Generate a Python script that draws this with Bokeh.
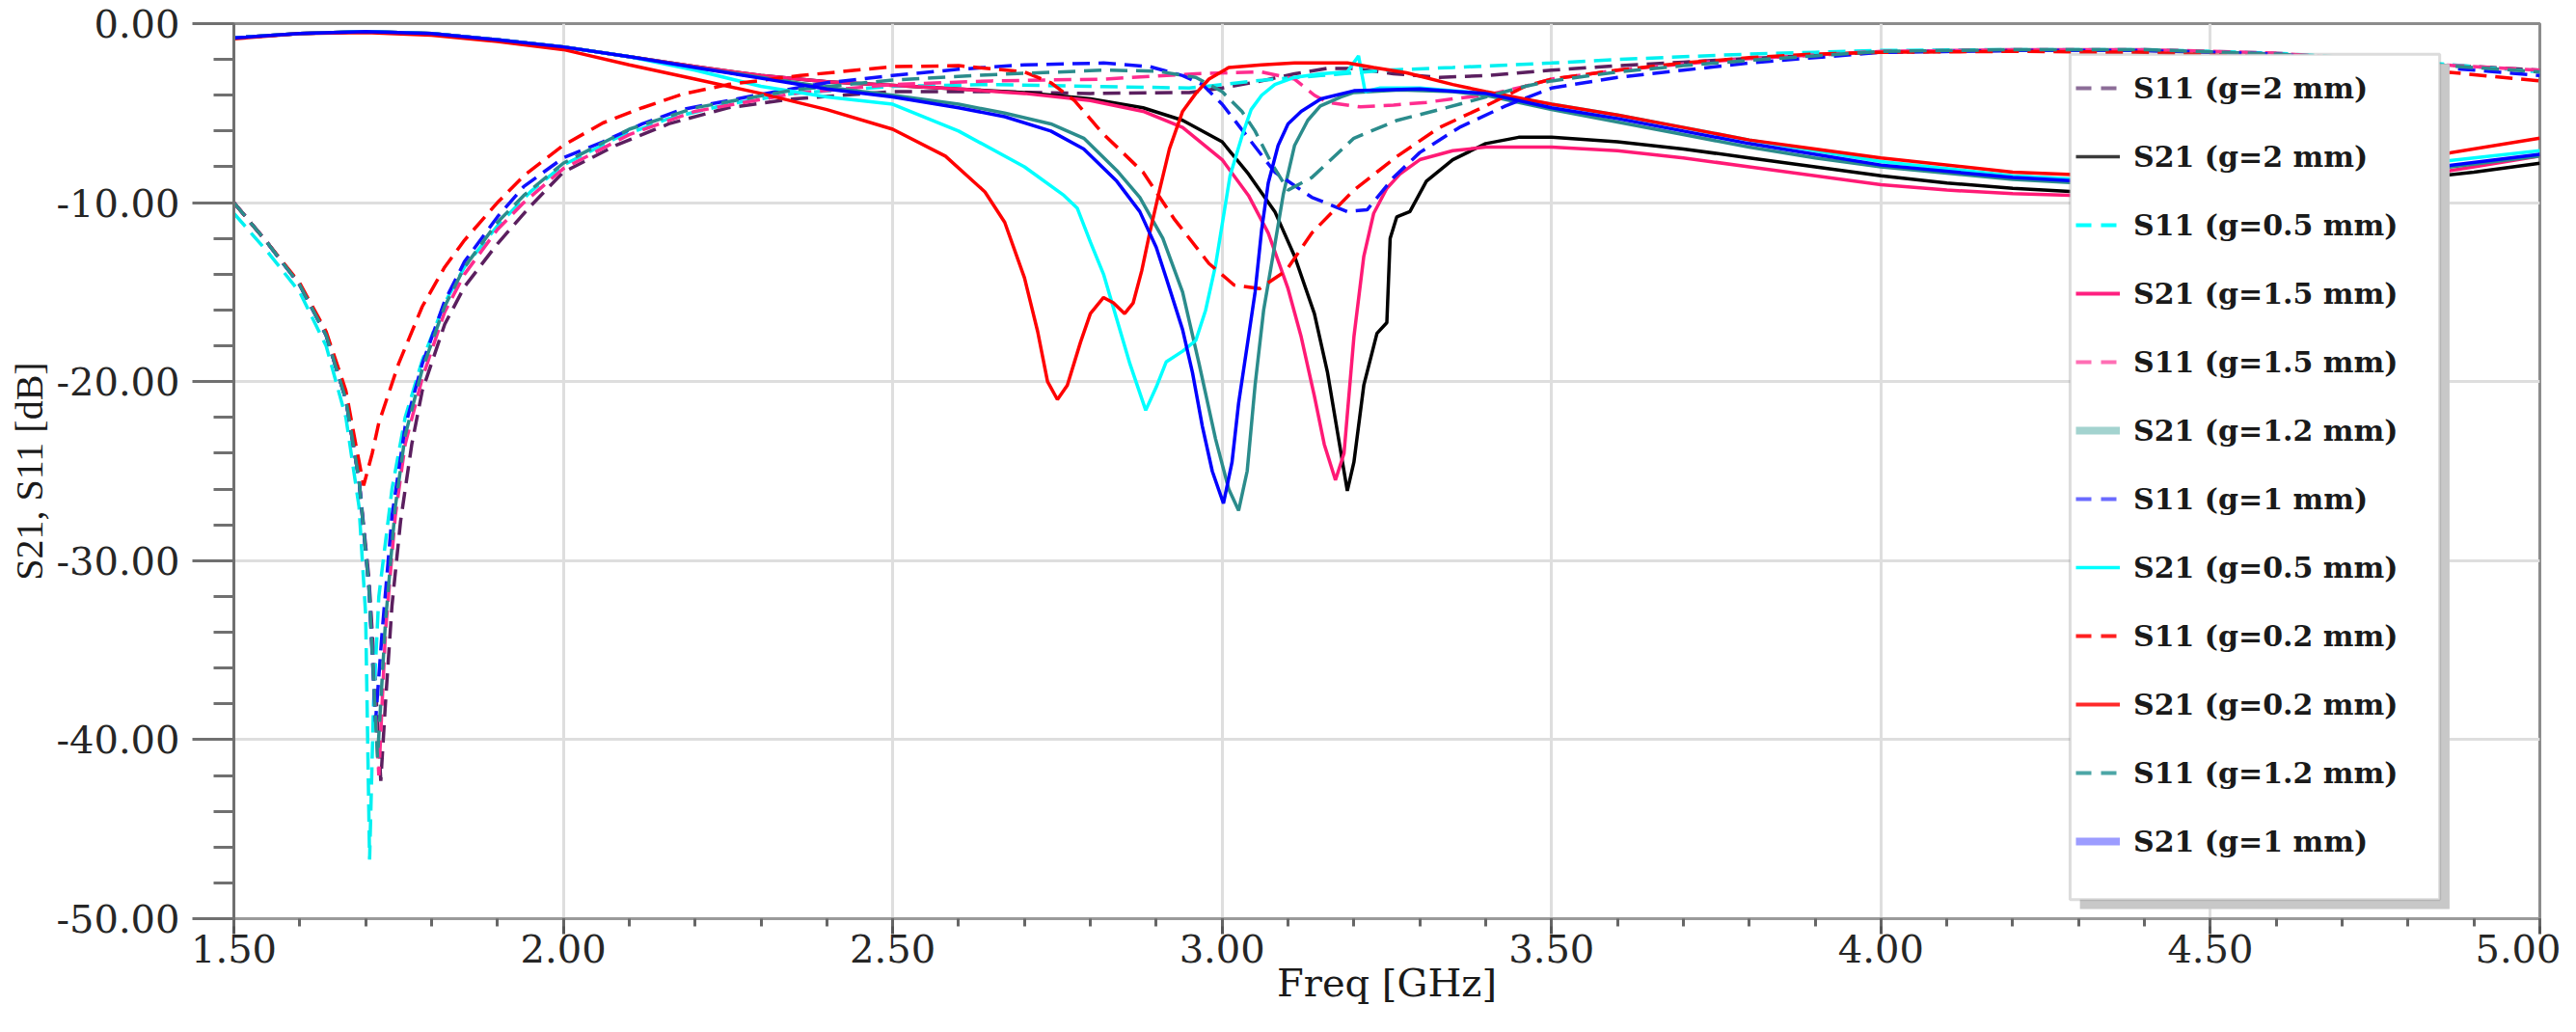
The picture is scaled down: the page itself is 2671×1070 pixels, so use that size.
from bokeh.plotting import figure
from bokeh.models import Range1d, FixedTicker, PrintfTickFormatter, Legend, LegendItem, BoxAnnotation
from bokeh.embed import file_html
from bokeh.resources import INLINE

# ---------------- data (GHz, dB) ----------------
x_major = [1.5, 2.0, 2.5, 3.0, 3.5, 4.0, 4.5, 5.0]
x_minor = [round(1.5 + 0.1 * i, 2) for i in range(36)]
y_major = [-50, -40, -30, -20, -10, 0]
y_minor = list(range(-50, 1, 2))

f_s21_g2 = [1.50, 1.60, 1.70, 1.80, 1.90, 2.00, 2.10, 2.20, 2.30, 2.40, 2.50, 2.60, 2.70, 2.80, 2.88, 2.94,
            3.00, 3.04, 3.08, 3.11, 3.14, 3.16, 3.175, 3.19, 3.20, 3.215, 3.235, 3.25, 3.255, 3.265, 3.285,
            3.31, 3.35, 3.40, 3.45, 3.50, 3.60, 3.70, 3.80, 3.90, 4.00, 4.10, 4.20, 4.30, 4.40, 4.50, 4.60,
            4.70, 4.80, 4.90, 5.00]
s21_g2 = [-0.80, -0.55, -0.45, -0.55, -0.90, -1.30, -1.85, -2.40, -2.90, -3.25, -3.45, -3.65, -3.85, -4.20,
          -4.70, -5.40, -6.60, -8.40, -10.5, -13.0, -16.2, -19.5, -22.8, -26.1, -24.5, -20.2, -17.3, -16.7,
          -12.0, -10.8, -10.5, -8.8, -7.6, -6.7, -6.35, -6.35, -6.6, -7.0, -7.5, -8.0, -8.5, -8.9, -9.2,
          -9.4, -9.5, -9.5, -9.3, -9.0, -8.7, -8.3, -7.8]

f_s21_g15 = [1.50, 1.60, 1.70, 1.80, 1.90, 2.00, 2.10, 2.20, 2.30, 2.40, 2.50, 2.60, 2.70, 2.80, 2.88, 2.94,
             3.00, 3.04, 3.07, 3.10, 3.12, 3.14, 3.155, 3.172, 3.185, 3.20, 3.215, 3.23, 3.25, 3.27, 3.30,
             3.35, 3.40, 3.50, 3.60, 3.70, 3.80, 3.90, 4.00, 4.10, 4.20, 4.30, 4.40, 4.50, 4.60, 4.70, 4.80,
             4.90, 5.00]
s21_g15 = [-0.80, -0.55, -0.45, -0.55, -0.90, -1.30, -1.85, -2.40, -2.90, -3.25, -3.45, -3.65, -3.90, -4.30,
           -4.90, -5.80, -7.60, -9.60, -11.7, -14.8, -17.5, -20.8, -23.5, -25.5, -24.0, -17.5, -13.0, -10.6,
           -9.2, -8.4, -7.6, -7.1, -6.9, -6.9, -7.1, -7.5, -8.0, -8.5, -9.0, -9.3, -9.5, -9.6, -9.7, -9.6,
           -9.4, -9.1, -8.6, -8.0, -7.4]

f_s21_g02 = [1.50, 1.60, 1.70, 1.80, 1.90, 2.00, 2.10, 2.20, 2.30, 2.40, 2.50, 2.58, 2.64, 2.67, 2.70, 2.72,
             2.735, 2.75, 2.765, 2.785, 2.80, 2.82, 2.835, 2.852, 2.865, 2.878, 2.89, 2.905, 2.92, 2.94, 2.96,
             2.98, 3.01, 3.06, 3.11, 3.19, 3.23, 3.28, 3.35, 3.40, 3.50, 3.60, 3.70, 3.80, 3.90, 4.00, 4.20,
             4.40, 4.60, 4.80, 5.00]
s21_g02 = [-0.85, -0.55, -0.50, -0.65, -1.00, -1.45, -2.30, -3.10, -3.90, -4.80, -5.90, -7.4, -9.4, -11.1,
           -14.2, -17.2, -20.0, -21.0, -20.2, -17.8, -16.2, -15.3, -15.6, -16.2, -15.6, -13.8, -11.7, -9.3,
           -7.0, -4.9, -3.9, -3.1, -2.45, -2.3, -2.2, -2.2, -2.45, -2.75, -3.4, -3.8, -4.5, -5.1, -5.8, -6.5,
           -7.0, -7.5, -8.3, -8.6, -8.4, -7.6, -6.4]

f_s21_g05 = [1.50, 1.60, 1.70, 1.80, 1.90, 2.00, 2.10, 2.20, 2.30, 2.40, 2.50, 2.60, 2.70, 2.76, 2.78, 2.80,
             2.82, 2.84, 2.86, 2.884, 2.90, 2.915, 2.94, 2.96, 2.975, 2.99, 3.012, 3.03, 3.044, 3.06, 3.08,
             3.11, 3.15, 3.19, 3.207, 3.217, 3.24, 3.30, 3.40, 3.50, 3.60, 3.70, 3.80, 3.90, 4.00, 4.20, 4.40,
             4.60, 4.80, 5.00]
s21_g05 = [-0.80, -0.55, -0.45, -0.55, -0.90, -1.30, -1.85, -2.60, -3.50, -4.10, -4.50, -6.00, -8.00, -9.6,
           -10.3, -12.2, -14.0, -16.5, -19.0, -21.6, -20.3, -18.9, -18.3, -17.7, -16.0, -13.5, -8.5, -6.3,
           -4.8, -4.0, -3.4, -3.0, -2.8, -2.7, -1.8, -3.8, -3.6, -3.6, -3.9, -4.5, -5.1, -5.8, -6.5, -7.1,
           -7.7, -8.5, -8.9, -8.8, -7.9, -7.1]

f_s21_g1 = [1.50, 1.60, 1.70, 1.80, 1.90, 2.00, 2.10, 2.20, 2.30, 2.40, 2.50, 2.60, 2.67, 2.74, 2.79, 2.84,
            2.875, 2.90, 2.915, 2.94, 2.955, 2.97, 2.985, 3.002, 3.015, 3.025, 3.04, 3.05, 3.06, 3.07, 3.085,
            3.10, 3.12, 3.15, 3.20, 3.30, 3.40, 3.50, 3.60, 3.70, 3.80, 3.90, 4.00, 4.20, 4.40, 4.60, 4.80,
            5.00]
s21_g1 = [-0.80, -0.55, -0.45, -0.55, -0.90, -1.30, -1.85, -2.45, -3.05, -3.65, -4.10, -4.70, -5.2, -6.0,
          -7.0, -8.8, -10.5, -12.5, -14.2, -17.1, -19.5, -22.5, -25.0, -26.8, -24.5, -21.2, -17.5, -15.0,
          -11.5, -8.9, -6.8, -5.6, -4.9, -4.2, -3.75, -3.65, -3.9, -4.7, -5.3, -6.0, -6.7, -7.3, -7.9, -8.6,
          -9.0, -9.0, -8.2, -7.3]

f_s21_g12 = [1.50, 1.60, 1.70, 1.80, 1.90, 2.00, 2.10, 2.20, 2.30, 2.40, 2.50, 2.60, 2.67, 2.74, 2.79, 2.84,
             2.875, 2.91, 2.94, 2.965, 2.99, 3.01, 3.025, 3.038, 3.05, 3.063, 3.077, 3.093, 3.11, 3.13, 3.149,
             3.18, 3.20, 3.27, 3.35, 3.40, 3.50, 3.60, 3.70, 3.80, 3.90, 4.00, 4.20, 4.40, 4.60, 4.80, 5.00]
s21_g12 = [-0.80, -0.55, -0.45, -0.55, -0.90, -1.30, -1.85, -2.45, -3.00, -3.55, -4.00, -4.50, -5.0, -5.6,
           -6.4, -8.2, -9.7, -12.0, -15.0, -19.0, -23.2, -26.0, -27.2, -25.0, -20.2, -16.0, -13.0, -9.5,
           -6.8, -5.4, -4.6, -4.1, -3.85, -3.7, -3.8, -4.0, -4.8, -5.5, -6.2, -6.9, -7.5, -8.0, -8.7, -9.1,
           -9.0, -8.3, -7.4]

f_s11_g2 = [1.50, 1.55, 1.60, 1.64, 1.67, 1.69, 1.705, 1.715, 1.723, 1.73, 1.74, 1.753, 1.77, 1.786, 1.82,
            1.85, 1.90, 1.95, 2.00, 2.08, 2.16, 2.25, 2.35, 2.50, 2.65, 2.80, 2.95, 3.00, 3.06, 3.11, 3.16,
            3.20, 3.26, 3.33, 3.40, 3.50, 3.60, 3.70, 3.80, 3.90, 4.00, 4.20, 4.40, 4.60, 4.80, 5.00]
s11_g2 = [-10.0, -12.2, -14.6, -17.4, -21.0, -25.5, -31.0, -37.0, -42.3, -38.0, -32.5, -27.8, -23.5, -20.5,
          -16.8, -14.7, -12.3, -10.2, -8.3, -6.8, -5.6, -4.7, -4.2, -3.8, -3.8, -3.9, -3.85, -3.6, -3.2,
          -2.8, -2.5, -2.5, -2.8, -3.0, -2.9, -2.6, -2.35, -2.15, -1.95, -1.75, -1.6, -1.5, -1.5, -1.7,
          -2.2, -2.6]

f_s11_g05 = [1.50, 1.55, 1.60, 1.64, 1.67, 1.69, 1.70, 1.706, 1.712, 1.72, 1.74, 1.76, 1.786, 1.82, 1.85,
             1.90, 1.95, 2.00, 2.08, 2.16, 2.25, 2.35, 2.50, 2.65, 2.80, 2.95, 3.05, 3.15, 3.25, 3.35, 3.50,
             3.60, 3.70, 3.80, 3.90, 4.00, 4.20, 4.40, 4.60, 4.80, 5.00]
s11_g05 = [-10.6, -12.7, -15.0, -18.0, -22.0, -27.0, -33.0, -46.7, -38.0, -32.0, -26.0, -22.0, -18.8, -15.6,
           -13.6, -11.3, -9.4, -7.9, -6.4, -5.3, -4.5, -3.9, -3.5, -3.4, -3.5, -3.6, -3.2, -2.9, -2.6,
           -2.45, -2.2, -2.0, -1.85, -1.7, -1.6, -1.5, -1.45, -1.45, -1.65, -2.1, -2.7]

f_s11_g15 = [1.50, 1.55, 1.60, 1.64, 1.67, 1.69, 1.705, 1.72, 1.73, 1.745, 1.76, 1.786, 1.82, 1.85, 1.90,
             1.94, 2.00, 2.10, 2.20, 2.35, 2.50, 2.65, 2.82, 2.96, 3.06, 3.11, 3.14, 3.16, 3.21, 3.26, 3.31,
             3.35, 3.40, 3.46, 3.50, 3.60, 3.70, 3.80, 3.90, 4.00, 4.20, 4.40, 4.60, 4.80, 5.00]
s11_g15 = [-10.0, -12.2, -14.6, -17.4, -21.0, -25.5, -31.5, -42.0, -34.0, -27.5, -23.5, -19.8, -16.1, -14.0,
           -11.5, -10.0, -8.1, -6.2, -4.9, -3.9, -3.4, -3.2, -3.1, -2.8, -2.7, -3.1, -4.0, -4.4, -4.65,
           -4.55, -4.4, -4.2, -4.0, -3.5, -3.1, -2.6, -2.25, -1.95, -1.75, -1.55, -1.45, -1.45, -1.65, -2.2,
           -2.6]

f_s11_g1 = [1.50, 1.55, 1.60, 1.64, 1.67, 1.69, 1.705, 1.715, 1.725, 1.74, 1.76, 1.786, 1.82, 1.85, 1.90,
            1.94, 2.00, 2.06, 2.12, 2.18, 2.30, 2.40, 2.50, 2.60, 2.70, 2.82, 2.89, 2.94, 2.97, 3.00, 3.04,
            3.08, 3.136, 3.19, 3.22, 3.26, 3.30, 3.36, 3.43, 3.50, 3.60, 3.70, 3.80, 3.90, 4.00, 4.20, 4.40,
            4.60, 4.80, 5.00]
s11_g1 = [-10.0, -12.2, -14.6, -17.4, -21.0, -25.5, -31.5, -39.0, -34.0, -27.5, -22.5, -19.0, -15.5, -13.3,
          -10.8, -9.1, -7.5, -6.6, -5.6, -4.8, -3.95, -3.3, -2.9, -2.55, -2.3, -2.2, -2.4, -2.9, -3.4, -4.5,
          -6.4, -8.3, -9.7, -10.5, -10.4, -8.6, -7.2, -5.8, -4.6, -3.6, -3.0, -2.6, -2.2, -1.9, -1.6, -1.5,
          -1.5, -1.7, -2.3, -2.9]

f_s11_g02 = [1.50, 1.55, 1.60, 1.64, 1.67, 1.685, 1.697, 1.71, 1.72, 1.75, 1.786, 1.82, 1.85, 1.90, 1.94,
             2.00, 2.06, 2.12, 2.18, 2.25, 2.36, 2.50, 2.60, 2.70, 2.74, 2.776, 2.818, 2.88, 2.927, 2.98,
             3.018, 3.057, 3.097, 3.136, 3.20, 3.266, 3.33, 3.40, 3.46, 3.50, 3.60, 3.70, 3.80, 3.90, 4.00,
             4.20, 4.40, 4.60, 4.80, 5.00]
s11_g02 = [-10.0, -12.2, -14.5, -17.2, -20.5, -23.5, -25.8, -24.0, -22.3, -19.0, -15.8, -13.6, -12.1, -10.0,
           -8.5, -6.8, -5.55, -4.7, -3.95, -3.4, -2.9, -2.4, -2.35, -2.7, -3.3, -4.3, -6.1, -8.3, -10.9,
           -13.4, -14.6, -14.8, -13.8, -11.7, -9.3, -7.4, -5.8, -4.6, -3.5, -3.1, -2.6, -2.2, -1.9, -1.7,
           -1.6, -1.55, -1.6, -1.9, -2.5, -3.2]

f_s11_g12 = [1.50, 1.55, 1.60, 1.64, 1.67, 1.69, 1.705, 1.718, 1.73, 1.745, 1.76, 1.786, 1.82, 1.85, 1.90,
             1.94, 2.00, 2.10, 2.20, 2.35, 2.50, 2.65, 2.82, 2.90, 2.96, 3.00, 3.03, 3.05, 3.075, 3.10,
             3.136, 3.20, 3.266, 3.33, 3.40, 3.46, 3.50, 3.60, 3.70, 3.80, 3.90, 4.00, 4.20, 4.40, 4.60,
             4.80, 5.00]
s11_g12 = [-10.0, -12.2, -14.6, -17.4, -21.0, -25.5, -31.5, -41.0, -33.5, -27.0, -23.0, -19.3, -15.8, -13.6,
           -11.1, -9.6, -7.8, -5.9, -4.7, -3.7, -3.15, -2.85, -2.6, -2.65, -3.0, -3.8, -4.9, -6.0, -7.8,
           -9.3, -8.6, -6.4, -5.4, -4.8, -4.1, -3.5, -3.2, -2.7, -2.35, -2.05, -1.8, -1.55, -1.45, -1.45,
           -1.7, -2.2, -2.7]

labels = ["S11 (g=2 mm)", "S21 (g=2 mm)", "S11 (g=0.5 mm)", "S21 (g=1.5 mm)", "S11 (g=1.5 mm)",
          "S21 (g=1.2 mm)", "S11 (g=1 mm)", "S21 (g=0.5 mm)", "S11 (g=0.2 mm)", "S21 (g=0.2 mm)",
          "S11 (g=1.2 mm)", "S21 (g=1 mm)"]

# ---------------- styles ----------------
DASH = "18 9"
series = [
    (f_s11_g2, s11_g2, "#5b1f5f", DASH, "#8c6d98", 4),
    (f_s21_g2, s21_g2, "#000000", "solid", "#3a3a3a", 3.5),
    (f_s11_g05, s11_g05, "#00f0f0", DASH, "#00ffff", 4),
    (f_s21_g15, s21_g15, "#ff1a75", "solid", "#ff2080", 4),
    (f_s11_g15, s11_g15, "#ff2d8f", DASH, "#ff6eb4", 4),
    (f_s21_g12, s21_g12, "#2b8c8c", "solid", "#a3d3cf", 8),
    (f_s11_g1, s11_g1, "#1010ff", DASH, "#6a6aff", 4),
    (f_s21_g05, s21_g05, "#00ffff", "solid", "#00ffff", 3.5),
    (f_s11_g02, s11_g02, "#ff0000", DASH, "#ff2020", 4),
    (f_s21_g02, s21_g02, "#ff0000", "solid", "#ff2a2a", 4),
    (f_s11_g12, s11_g12, "#2b8c8c", DASH, "#4ca6a6", 4),
    (f_s21_g1, s21_g1, "#0000ff", "solid", "#9c9cff", 8),
]

TICK_FONT = "DejaVu Serif"

p = figure(width=2655, height=1054, output_backend="svg", toolbar_location=None,
           x_range=Range1d(1.5, 5.0), y_range=Range1d(-50, 0),
           min_border_left=242, min_border_right=22, min_border_top=24, min_border_bottom=102,
           background_fill_color="white", border_fill_color="white")

p.outline_line_color = "#8c8c8c"
p.outline_line_width = 3

for g in (p.xgrid, p.ygrid):
    g.grid_line_color = "#dedede"
    g.grid_line_width = 3

xa = p.xaxis[0]
xa.ticker = FixedTicker(ticks=x_major, minor_ticks=x_minor)
xa.formatter = PrintfTickFormatter(format="%.2f")
xa.axis_line_color = "#9a9a9a"
xa.axis_line_width = 3
xa.major_tick_line_color = "#555555"
xa.major_tick_line_width = 3
xa.minor_tick_line_color = "#666666"
xa.minor_tick_line_width = 3
xa.major_tick_out = 16
xa.major_tick_in = 0
xa.minor_tick_out = 8
xa.minor_tick_in = 0
xa.major_label_standoff = 0
xa.major_label_text_font = TICK_FONT
xa.major_label_text_font_size = "40px"
xa.major_label_text_color = "#262626"
xa.axis_label = "Freq [GHz]"
xa.axis_label_text_font = TICK_FONT
xa.axis_label_text_font_style = "normal"
xa.axis_label_text_font_size = "40px"
xa.axis_label_text_color = "#1a1a1a"
xa.axis_label_standoff = -5

ya = p.yaxis[0]
ya.ticker = FixedTicker(ticks=y_major, minor_ticks=y_minor)
ya.formatter = PrintfTickFormatter(format="%.2f")
ya.axis_line_color = "#707070"
ya.axis_line_width = 3
ya.major_tick_line_color = "#707070"
ya.major_tick_line_width = 3
ya.minor_tick_line_color = "#707070"
ya.minor_tick_line_width = 3
ya.major_tick_out = 43
ya.major_tick_in = 0
ya.minor_tick_out = 21
ya.minor_tick_in = 0
ya.major_label_standoff = 13
ya.major_label_text_font = TICK_FONT
ya.major_label_text_font_size = "40px"
ya.major_label_text_color = "#262626"
ya.axis_label = "S21, S11 [dB]"
ya.axis_label_text_font = "Liberation Serif"
ya.axis_label_text_font_style = "normal"
ya.axis_label_text_font_size = "40px"
ya.axis_label_text_color = "#1a1a1a"
ya.axis_label_standoff = 2

for fx, fy, col, dash, _, _ in series:
    p.line(fx, fy, line_color=col, line_width=3.5, line_dash=dash)

# hidden renderers that only supply the legend samples
items = []
for (fx, fy, col, dash, lcol, lw), lab in zip(series, labels):
    ldash = "16 10" if dash != "solid" else "solid"
    r = p.line(fx, fy, line_color=lcol, line_width=lw, line_dash=ldash, visible=False)
    items.append(LegendItem(label=lab, renderers=[r]))

shadow = BoxAnnotation(left=4.302, right=4.863, top=-2.25, bottom=-49.46,
                       fill_color="#c8c8c8", fill_alpha=1.0, line_color=None)
box = BoxAnnotation(left=4.287, right=4.848, top=-1.71, bottom=-48.93,
                    fill_color="white", fill_alpha=1.0, line_color="#8a8a8a", line_width=3)
p.add_layout(shadow)
p.add_layout(box)

legend = Legend(items=items, location=(1910, 60), padding=0, spacing=31, margin=0,
                glyph_width=46, glyph_height=40, label_height=40, label_standoff=14,
                label_text_font=TICK_FONT, label_text_font_style="bold",
                label_text_font_size="30px", label_text_color="#1a1a1a",
                border_line_color=None, background_fill_alpha=0,
                inactive_fill_alpha=0.0, click_policy="none")
p.add_layout(legend, "center")

open("out.html", "w").write(file_html(p, INLINE))
